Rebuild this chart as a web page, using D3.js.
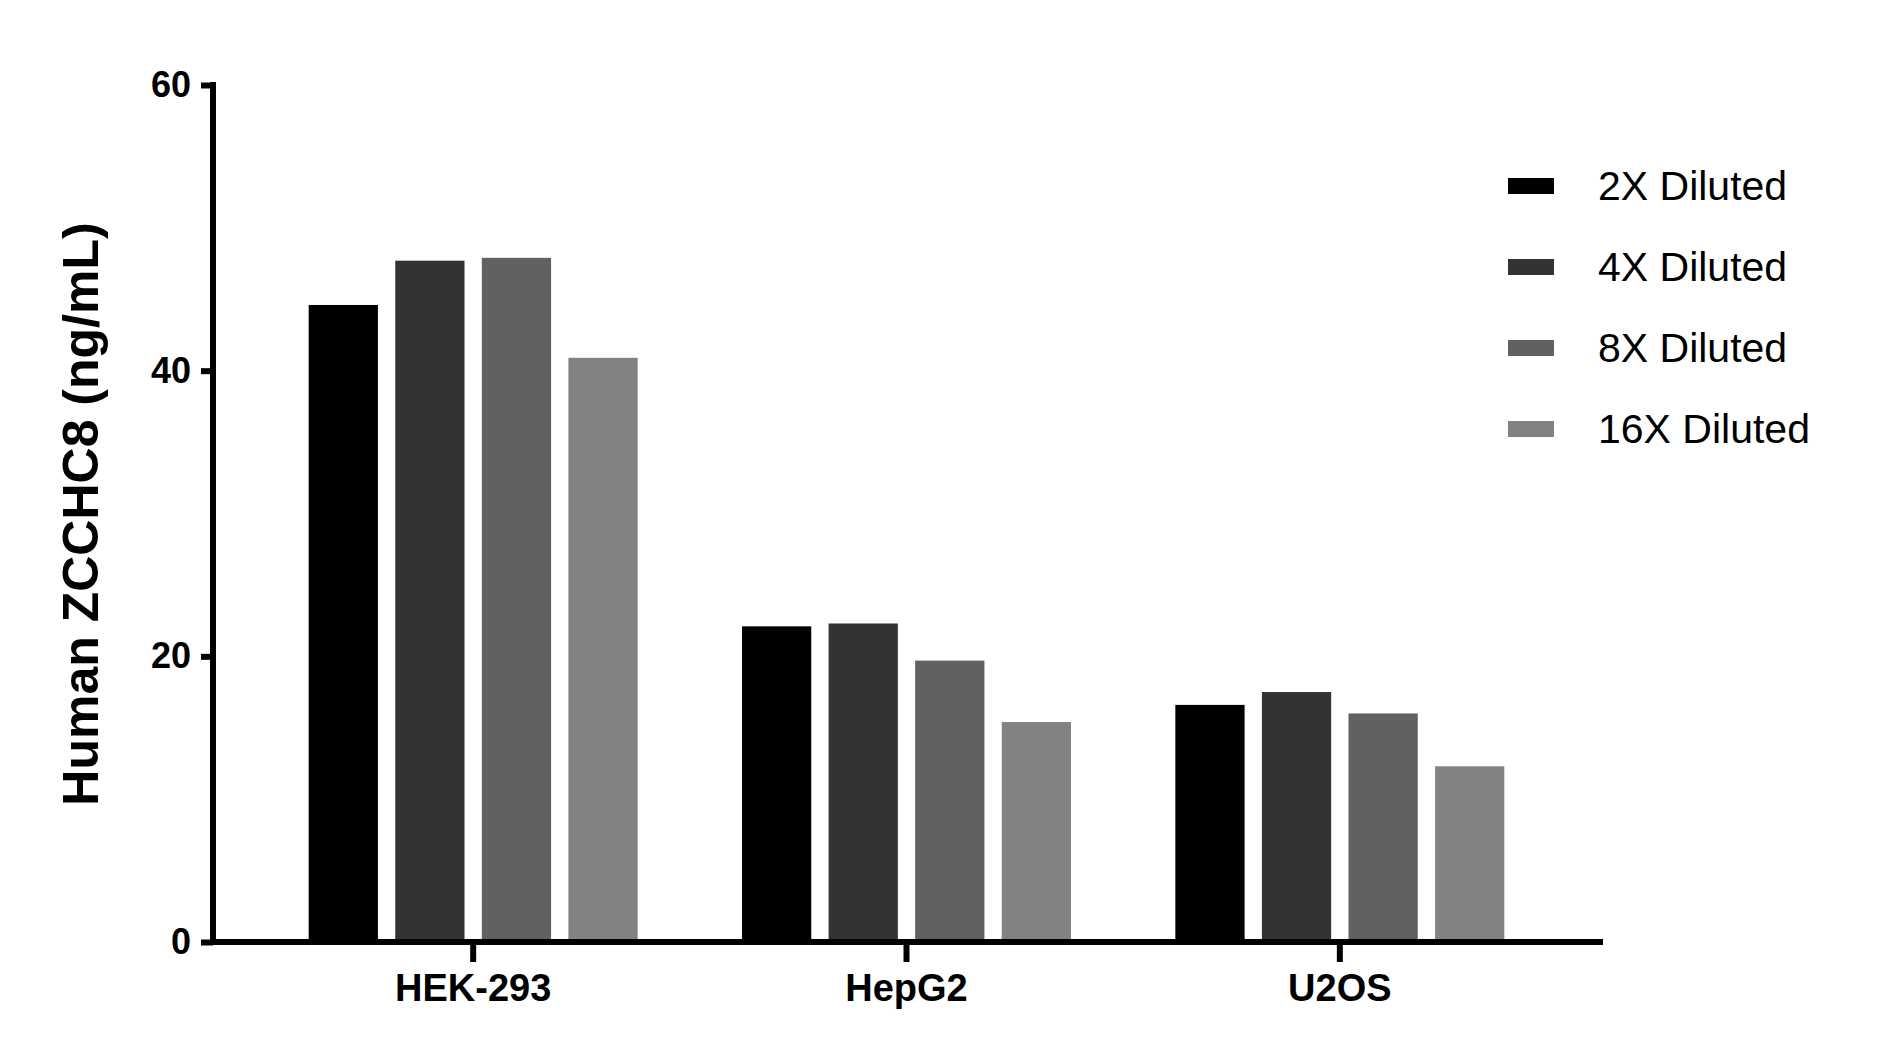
<!DOCTYPE html>
<html><head><meta charset="utf-8">
<script src="https://cdn.jsdelivr.net/npm/d3@7"></script>
<style>body{margin:0;background:#fff}svg{display:block}</style>
</head><body><div id="chart"></div>
<script>
const categories = ['HEK-293', 'HepG2', 'U2OS']
const seriesNames = ['2X Diluted', '4X Diluted', '8X Diluted', '16X Diluted']
const seriesColors = ['#000000', '#333333', '#616161', '#828282']
const dil2x = [44.6, 22.1, 16.6]
const dil4x = [47.7, 22.3, 17.5]
const dil8x = [47.9, 19.7, 16.0]
const dil16x = [40.9, 15.4, 12.3]
const yTicks = [0, 20, 40, 60]

const series = [dil2x, dil4x, dil8x, dil16x]
const W = 1886, H = 1064
const axisX = 213, y0 = 942, yTop = 85, xEnd = 1603

const svg = d3.select('#chart').append('svg').attr('width', W).attr('height', H)

const y = d3.scaleLinear().domain([0, 60]).range([y0, yTop])
const x = d3.scaleBand().domain(categories).range([256.5, 1556.5])
const xs = d3.scaleBand().domain(d3.range(4)).range([-164.5, 164.5]).paddingInner(0.2)

// bars
categories.forEach((c, ci) => {
  svg.append('g').selectAll('rect')
    .data(series.map((s, si) => ({ si, v: s[ci] })))
    .enter().append('rect')
    .attr('x', d => x(c) + x.bandwidth() / 2 + xs(d.si))
    .attr('width', xs.bandwidth())
    .attr('y', d => y(d.v))
    .attr('height', d => y0 - y(d.v))
    .attr('fill', d => seriesColors[d.si])
})

// y axis
const ya = svg.append('g').attr('transform', 'translate(' + axisX + ',0)')
  .call(d3.axisLeft(y).tickValues(yTicks).tickSize(12).tickPadding(10))
ya.select('.domain').attr('stroke-width', 6).attr('d', 'M0,' + (yTop - 3) + 'V' + (y0 + 3))
ya.selectAll('.tick line').attr('stroke-width', 6)
ya.selectAll('.tick text').style('font', 'bold 36px Arial, "Liberation Sans", sans-serif').attr('fill', '#000')

// x axis
const xa = svg.append('g').attr('transform', 'translate(0,' + y0 + ')')
  .call(d3.axisBottom(x).tickSize(20).tickPadding(12))
xa.select('.domain').attr('stroke-width', 6).attr('d', 'M' + (axisX - 3) + ',0H' + xEnd)
xa.selectAll('.tick line').attr('stroke-width', 6)
xa.selectAll('.tick text').style('font', 'bold 38px Arial, "Liberation Sans", sans-serif').attr('fill', '#000')

// y label
svg.append('text')
  .attr('transform', 'translate(98,514) rotate(-90)')
  .attr('text-anchor', 'middle')
  .style('font', 'bold 50px Arial, "Liberation Sans", sans-serif')
  .text('Human ZCCHC8 (ng/mL)')

// legend
const lg = svg.append('g')
seriesNames.forEach((n, i) => {
  const ly = 186 + i * 81
  lg.append('rect').attr('x', 1508).attr('y', ly - 8).attr('width', 46).attr('height', 16).attr('fill', seriesColors[i])
  lg.append('text').attr('x', 1598).attr('y', ly).attr('dy', '0.35em')
    .style('font', '41px Arial, "Liberation Sans", sans-serif').text(n)
})
</script></body></html>
